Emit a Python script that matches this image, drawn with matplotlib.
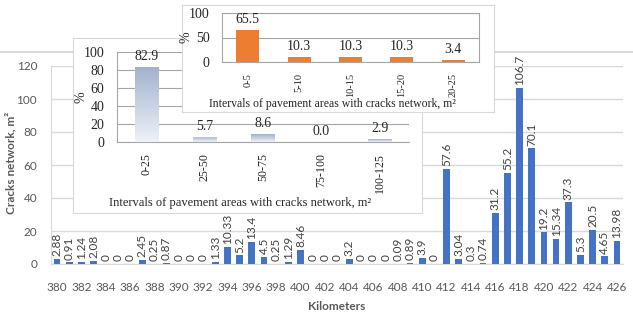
import numpy as np
import matplotlib
matplotlib.use('Agg')
import matplotlib.pyplot as plt
from matplotlib.lines import Line2D

# main chart data
km = list(range(380, 427))
cracks = [2.88, 0.91, 1.24, 2.08, 0, 0, 0, 2.45, 0.25, 0.87,
          0, 0, 0, 1.33, 10.33, 5.2, 13.4, 4.5, 0.25, 1.29,
          8.46, 0, 0, 0, 3.2, 0, 0, 0, 0.09, 0.89,
          3.9, 0, 57.6, 3.04, 0.3, 0.74, 31.2, 55.2, 106.7, 70.1,
          19.2, 15.34, 37.3, 5.3, 20.5, 4.65, 13.98]

# inset 1 (large intervals)
big_intervals = ["0-25", "25-50", "50-75", "75-100", "100-125"]
big_pct = [82.9, 5.7, 8.6, 0.0, 2.9]

# inset 2 (small intervals)
small_intervals = ["0-5", "5-10", "10-15", "15-20", "20-25"]
small_pct = [65.5, 10.3, 10.3, 10.3, 3.4]

W, H = 633, 318
SANS = 'Lato'
SERIF = 'Liberation Serif'
GRAY_TXT = '#595959'
GRID = '#D9D9D9'
INSET_XLABEL = "Intervals of pavement areas with cracks network, m²"


def px(x0, y0, x1, y1):
    return [x0 / W, 1 - y1 / H, (x1 - x0) / W, (y1 - y0) / H]


fig = plt.figure(figsize=(W / 100, H / 100), dpi=100)

# outer frame line of the main chart
fig.add_artist(Line2D([0, 1], [1 - 52 / H] * 2, color=GRID, lw=1.5, zorder=0))

# ---- main chart
ax = fig.add_axes(px(51, 66, 623, 264), zorder=1)
ax.bar(km, cracks, width=0.55, color='#4472C4', zorder=3)
for k, v in zip(km, cracks):
    ax.annotate(f"{v:g}", (k, v), xytext=(0, 2), textcoords='offset points',
                rotation=90, ha='center', va='bottom', fontsize=8.5,
                family=SANS, color='#404040', clip_on=False)
ax.set_xlim(379.5, 426.5)
ax.set_ylim(0, 120)
ax.set_yticks(range(0, 121, 20))
ax.set_xticks(km[::2])
ax.grid(axis='y', color=GRID, lw=1)
ax.set_axisbelow(True)
for s in ['top', 'right']:
    ax.spines[s].set_visible(False)
for s in ['left', 'bottom']:
    ax.spines[s].set_color(GRID)
ax.tick_params(axis='x', length=0, labelsize=8.5, colors=GRAY_TXT, pad=13)
ax.tick_params(axis='y', length=0, labelsize=8.5, colors=GRAY_TXT, pad=10)
for lab in ax.get_xticklabels() + ax.get_yticklabels():
    lab.set_family(SANS)
ax.set_xlabel("Kilometers", fontsize=8.5, fontweight='bold', family=SANS,
              color=GRAY_TXT, labelpad=6)
fig.text(11 / W, 1 - 163 / H, "Cracks network, m²", rotation=90,
         ha='center', va='center', fontsize=8.5, fontweight='bold',
         family=SANS, color=GRAY_TXT)

# ---- inset 1 box
box1 = fig.add_axes(px(73, 38, 422, 213), zorder=2)
box1.set_xticks([])
box1.set_yticks([])
box1.set_facecolor('white')
for s in box1.spines.values():
    s.set_color(GRID)

ax1 = fig.add_axes(px(117, 52, 409, 142), zorder=3)
ax1.patch.set_alpha(0)
x1 = np.arange(len(big_intervals))
bars = ax1.bar(x1, big_pct, width=0.4, color='none', zorder=3)
grad = np.linspace(0, 1, 100).reshape(-1, 1)
cmap = matplotlib.colors.LinearSegmentedColormap.from_list(
    'g', ['#EEF2F9', '#A3B2CC'])
for b in bars:
    if b.get_height() <= 0:
        continue
    im = ax1.imshow(grad, cmap=cmap, aspect='auto', origin='lower',
                    extent=[b.get_x(), b.get_x() + b.get_width(), 0, b.get_height()],
                    zorder=3)
    im.set_clip_path(b)
for xi, v in zip(x1, big_pct):
    ax1.annotate(f"{v:.1f}", (xi, v), xytext=(0, 3), textcoords='offset points',
                 ha='center', va='bottom', fontsize=10, family=SERIF,
                 color='#262626')
ax1.set_xlim(-0.5, 4.5)
ax1.set_ylim(0, 100)
ax1.set_yticks(range(0, 101, 20))
ax1.set_xticks(x1)
ax1.set_xticklabels(big_intervals, rotation=90)
ax1.grid(axis='y', color='#A6A6A6', lw=0.8)
ax1.set_axisbelow(True)
for s in ['top', 'right']:
    ax1.spines[s].set_visible(False)
for s in ['left', 'bottom']:
    ax1.spines[s].set_color('#A6A6A6')
ax1.tick_params(axis='y', length=0, labelsize=10, colors='#262626', pad=9)
ax1.tick_params(axis='x', length=0, labelsize=8.6, colors='#262626', pad=8)
for lab in ax1.get_xticklabels() + ax1.get_yticklabels():
    lab.set_family(SERIF)
ax1.set_ylabel("%", fontsize=10, family=SERIF, color='#262626', labelpad=-3)
fig.text(240 / W, 1 - 203 / H, INSET_XLABEL,
         ha='center', va='center', fontsize=9, family=SERIF, color='#262626',
         zorder=4)

# ---- inset 2 box
box2 = fig.add_axes(px(182, 5, 494, 112), zorder=5)
box2.set_xticks([])
box2.set_yticks([])
box2.set_facecolor('white')
for s in box2.spines.values():
    s.set_color(GRID)

ax2 = fig.add_axes(px(222, 13, 479, 62), zorder=6)
ax2.patch.set_alpha(0)
x2 = np.arange(len(small_intervals))
ax2.bar(x2, small_pct, width=0.45, color='#ED7D31', zorder=3)
for xi, v in zip(x2, small_pct):
    ax2.annotate(f"{v:.1f}", (xi, v), xytext=(0, 3), textcoords='offset points',
                 ha='center', va='bottom', fontsize=10, family=SERIF,
                 color='#262626')
ax2.set_xlim(-0.5, 4.5)
ax2.set_ylim(0, 100)
ax2.set_yticks([0, 50, 100])
ax2.set_xticks(x2)
ax2.set_xticklabels(small_intervals, rotation=90)
ax2.grid(axis='y', color='#A6A6A6', lw=0.8)
ax2.set_axisbelow(True)
for s in ax2.spines.values():
    s.set_color('#A6A6A6')
ax2.tick_params(axis='y', length=0, labelsize=10, colors='#262626', pad=9)
ax2.tick_params(axis='x', length=0, labelsize=7.5, colors='#262626', pad=8)
for lab in ax2.get_xticklabels() + ax2.get_yticklabels():
    lab.set_family(SERIF)
ax2.set_ylabel("%", fontsize=10, family=SERIF, color='#262626', labelpad=-3)
fig.text(332 / W, 1 - 104 / H, INSET_XLABEL,
         ha='center', va='center', fontsize=8.5, family=SERIF, color='#262626',
         zorder=7)

fig.savefig('out.png', dpi=100)
